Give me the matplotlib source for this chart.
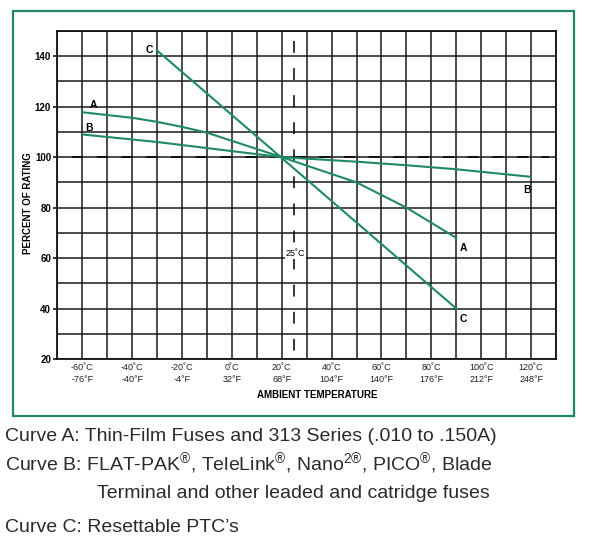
import matplotlib
matplotlib.use('Agg')
import matplotlib.pyplot as plt
from matplotlib.patches import Rectangle

plt.rcParams['font.family'] = ['Liberation Sans', 'DejaVu Sans']
plt.rcParams['lines.scale_dashes'] = False
plt.rcParams['mathtext.fontset'] = 'custom'
plt.rcParams['mathtext.rm'] = 'Liberation Sans'
plt.rcParams['mathtext.it'] = 'Liberation Sans'
plt.rcParams['mathtext.bf'] = 'Liberation Sans:bold'

# derating curves: temperature (C) vs percent of rating
a_temp = [-60, -40, -30, -20, -10, 20, 50, 70, 90]
a_pct = [117.8, 115.6, 114.0, 112.0, 109.7, 100, 90, 80, 68]
b_temp = [-60, -30, -10, 20, 50, 70, 90, 120]
b_pct = [109, 106, 103.6, 100, 98.2, 96.8, 95.2, 92.2]
c_temp = [-30, 90]
c_pct = [142.3, 40]

tick_c = [-60, -40, -20, 0, 20, 40, 60, 80, 100, 120]
tick_f = [-76, -40, -4, 32, 68, 104, 140, 176, 212, 248]
y_ticks = [20, 40, 60, 80, 100, 120, 140]
ref_temp = 25
ref_pct = 100

reg = '$^{\\mathrm{\u00ae}}$'
notes = [
    "Curve A: Thin-Film Fuses and 313 Series (.010 to .150A)",
    "Curve B: FLAT-PAK" + reg + ", TeleLink" + reg + ", Nano$^{\\mathrm{2\u00ae}}$, PICO" + reg + ", Blade",
    "Terminal and other leaded and catridge fuses",
    "Curve C: Resettable PTC\u2019s",
]

green = '#1f8a62'
W, H = 590, 557
fig = plt.figure(figsize=(W / 100, H / 100), dpi=100)
fig.patch.set_facecolor('white')

# green frame round the chart
fig.patches.append(Rectangle((13 / W, 1 - 416 / H), 561 / W, 405 / H,
                             transform=fig.transFigure, fill=False,
                             edgecolor=green, linewidth=1.6))

ax = fig.add_axes([57.3 / W, 1 - 359 / H, 498.7 / W, 328 / H])
ax.set_xlim(-70, 130)
ax.set_ylim(20, 150)

for x in range(-70, 131, 10):
    ax.axvline(x, color='#1a1a1a', lw=1.1, zorder=1)
for y in range(20, 151, 10):
    ax.axhline(y, color='#1a1a1a', lw=1.1, zorder=1)
for s in ax.spines.values():
    s.set_linewidth(1.3)
    s.set_color('#111111')

# reference lines
ax.plot([-64, 127], [ref_pct, ref_pct], color='black', lw=1.1,
        dashes=(8, 9.8), zorder=2)
ax.plot([ref_temp, ref_temp], [146, 20], color='black', lw=1.1,
        dashes=(8.5, 11), zorder=2)

ax.plot(a_temp, a_pct, color=green, lw=1.5, zorder=3)
ax.plot(b_temp, b_pct, color=green, lw=1.5, zorder=3)
ax.plot(c_temp, c_pct, color=green, lw=1.5, zorder=3)

lab = dict(fontsize=7.5, fontweight='bold', ha='center', va='center', zorder=4)
ax.text(-55.5, 120.6, 'A', **lab)
ax.text(-57.2, 111.6, 'B', **lab)
ax.text(-33.2, 142.6, 'C', **lab)
ax.text(92.8, 63.8, 'A', **lab)
ax.text(118.3, 86.8, 'B', **lab)
ax.text(92.8, 35.8, 'C', **lab)
ax.text(ref_temp + 0.4, 61.7, '25\u02daC', fontsize=6.5, ha='center',
        va='center', zorder=4,
        bbox=dict(facecolor='white', edgecolor='none', pad=0.6))

ax.set_xticks(tick_c)
ax.set_xticklabels([f'{c}\u02daC\n{f}\u00b0F' for c, f in zip(tick_c, tick_f)],
                   fontsize=6.5, color='#222222', linespacing=1.45)
ax.set_yticks(y_ticks)
ax.set_yticklabels([str(v) for v in y_ticks], fontsize=7, fontweight='bold')
ax.tick_params(axis='x', length=0, pad=3)
ax.tick_params(axis='y', length=3, width=1.1, pad=1.5)

fig.text(317 / W, 1 - 395 / H, 'AMBIENT TEMPERATURE', fontsize=7,
         fontweight='bold', ha='center', va='center')
fig.text(28 / W, 1 - 203 / H, 'PERCENT OF RATING', fontsize=7,
         fontweight='bold', ha='center', va='center', rotation=90)

# notes under the chart, fitted to the width of the first line
base = [441, 471, 498, 532]
lefts = [5, 5, 97, 5]
texts = []
for s, yb, xl in zip(notes, base, lefts):
    texts.append(fig.text(xl / W, 1 - yb / H, s, fontsize=14,
                          family=['Liberation Sans Narrow', 'Liberation Sans'],
                          color='#2a2a2a', ha='left', va='baseline'))
fig.canvas.draw()
r = fig.canvas.get_renderer()
scale = 493 / texts[0].get_window_extent(r).width
for t in texts:
    t.set_fontsize(14 * scale)

fig.savefig('out.png', dpi=100, facecolor='white')
